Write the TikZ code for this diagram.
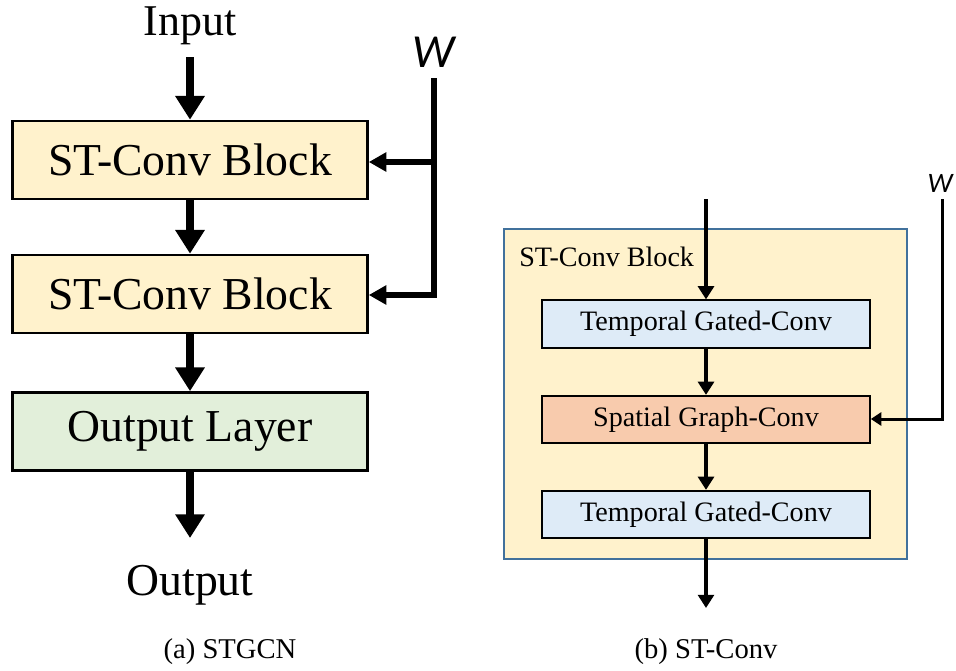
\documentclass[tikz,border=0pt]{standalone}
\usepackage{fontspec}
\setmainfont{Liberation Serif}
\newfontfamily\wfont{Carlito}
\usetikzlibrary{arrows.meta}
\definecolor{blockyellow}{HTML}{FFF2CC}
\definecolor{outgreen}{HTML}{E2EFDA}
\definecolor{tempblue}{HTML}{DEEBF7}
\definecolor{spatorange}{HTML}{F8CBAD}
\definecolor{frameblue}{HTML}{41719C}
\tikzset{
  bigbox/.style={draw=black, line width=1.5pt, minimum width=7.1cm, minimum height=1.56cm, inner sep=0pt, font=\fontsize{26}{30}\selectfont},
  smallbox/.style={draw=black, line width=1pt, minimum width=6.56cm, minimum height=0.95cm, inner sep=0pt, font=\fontsize{16}{19}\selectfont},
  bigarrow/.style={line width=4.5pt, -{Triangle[length=13.5pt, width=16pt]}},
  sidearrow/.style={line width=3.3pt, -{Triangle[length=10pt, width=10.5pt]}},
  thinarrow/.style={line width=2.3pt, -{Triangle[length=7.5pt, width=9pt]}},
  warrow/.style={line width=1.7pt, -{Triangle[length=6pt, width=7.5pt]}}
}
\begin{document}
\begin{tikzpicture}[x=0.02cm, y=-0.02cm]
		\useasboundingbox (0,0) rectangle (956,670);
		% (a) STGCN
		\node[anchor=base, font=\fontsize{25}{30}\selectfont] (in) at (190,35) {Input};
		\node[anchor=base, font=\wfont\itshape\fontsize{27}{30}\selectfont] (wl) at (434,67) {W};
		\node[bigbox, fill=blockyellow] (st1) at (190,160) {ST-Conv Block};
		\node[bigbox, fill=blockyellow] (st2) at (190,294) {ST-Conv Block};
		\node[bigbox, fill=outgreen] (outl) at (190,431.5) {Output Layer};
		\node[anchor=base, font=\fontsize{26}{30}\selectfont] (out) at (190,595) {Output};
		\coordinate (intop) at (190,57);
		\coordinate (outend) at (190,538);
		\coordinate (wtop) at (434,78);
		\coordinate (w1) at (434,162);
		\coordinate (w2) at (434,295);
		\draw[bigarrow] (intop) -- (st1.north);
		\draw[bigarrow] (st1) -- (st2);
		\draw[bigarrow] (st2) -- (outl);
		\draw[bigarrow] (outl.south) -- (outend);
		\draw[line width=3.3pt] (wtop) -- (w2);
		\draw[sidearrow] (w1) -- (st1.east |- w1);
		\draw[sidearrow] ([xshift=1.6pt]w2) -- (st2.east |- w2);
		\node[anchor=base, font=\fontsize{16.3}{19}\selectfont] (capa) at (230,658) {(a) STGCN};
		% (b) ST-Conv
		\node[draw=frameblue, line width=0.9pt, fill=blockyellow, minimum width=8.06cm, minimum height=6.6cm, inner sep=0pt] (blk) at (705.5,394) {};
		\node[anchor=base west, inner sep=0pt, font=\fontsize{16}{19}\selectfont] (blklab) at (519,266) {ST-Conv Block};
		\node[smallbox, fill=tempblue] (tg1) at (706,324) {Temporal Gated-Conv};
		\node[smallbox, fill=spatorange] (sg) at (706,419.5) {Spatial Graph-Conv};
		\node[smallbox, fill=tempblue] (tg2) at (706,514.5) {Temporal Gated-Conv};
		\node[anchor=base, font=\wfont\itshape\fontsize{16}{19}\selectfont] (wr) at (940,192) {W};
		\coordinate (rtop) at (706,199);
		\coordinate (rend) at (706,608);
		\coordinate (wrtop) at (942,199);
		\coordinate (wrc) at (942,419);
		\draw[thinarrow] (rtop) -- (tg1.north);
		\draw[thinarrow] (tg1) -- (sg);
		\draw[thinarrow] (sg) -- (tg2);
		\draw[thinarrow] (tg2.south) -- (rend);
		\draw[warrow] (wrtop) -- (wrc) -- (sg.east |- wrc);
		\node[anchor=base, font=\fontsize{16.3}{19}\selectfont] (capb) at (706,658) {(b) ST-Conv};
\end{tikzpicture}
\end{document}
